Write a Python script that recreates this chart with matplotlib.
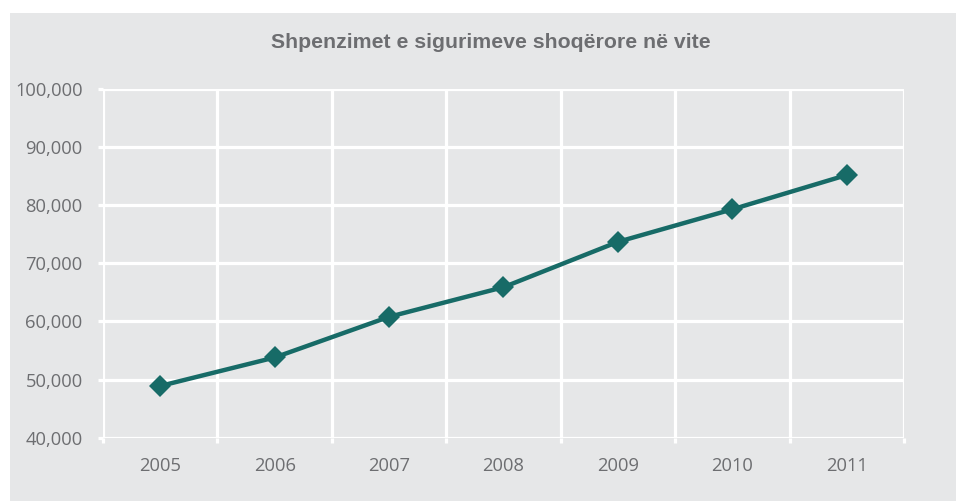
import matplotlib
matplotlib.use("Agg")
import matplotlib.pyplot as plt
from matplotlib.patches import Rectangle
from matplotlib.ticker import FuncFormatter, MultipleLocator

years = ["2005", "2006", "2007", "2008", "2009", "2010", "2011"]
values = [48900, 53800, 60800, 65900, 73700, 79300, 85200]
title = "Shpenzimet e sigurimeve shoqërore në vite"

BG = "#e6e7e8"
LINE = "#176b67"
TXT = "#6d6e71"

W, H = 956, 501
fig = plt.figure(figsize=(W / 100, H / 100), dpi=100, facecolor="white")
fig.patches.append(Rectangle((10 / W, 0), 1 - 10 / W, 1 - 13 / H,
                             transform=fig.transFigure, facecolor=BG,
                             edgecolor="none", zorder=-10))

ax = fig.add_axes([103 / W, 1 - 437.7 / H, (904 - 103) / W, (437.7 - 89) / H])
ax.set_facecolor(BG)

x = list(range(len(years)))
ax.plot(x, values, color=LINE, lw=3.2, marker="D", markersize=11,
        markeredgewidth=0, zorder=5, solid_capstyle="round")

ax.set_xlim(-0.5, len(years) - 0.5)
ax.set_ylim(40000, 100000)
ax.yaxis.set_major_locator(MultipleLocator(10000))
ax.yaxis.set_major_formatter(FuncFormatter(lambda v, p: f"{int(v):,}"))
ax.set_xticks(x)
ax.set_xticklabels(years)
ax.set_xticks([i - 0.5 for i in range(len(years) + 1)], minor=True)

ax.grid(axis="y", which="major", color="white", lw=2.3)
ax.grid(axis="x", which="minor", color="white", lw=2.3)
ax.grid(axis="x", which="major", visible=False)
for s in ax.spines.values():
    s.set_visible(False)

ax.tick_params(axis="y", which="major", length=5 * 0.72, width=2.3,
               color="white", pad=11, labelsize=13.2, labelcolor=TXT)
ax.tick_params(axis="x", which="major", length=0, pad=14,
               labelsize=13.2, labelcolor=TXT)
ax.tick_params(axis="x", which="minor", length=5 * 0.72, width=2.3,
               color="white")
for lab in ax.get_xticklabels() + ax.get_yticklabels():
    lab.set_fontfamily("Open Sans")
ax.set_axisbelow(True)

fig.text(491 / W, 1 - 43 / H, title, ha="center", va="center",
         fontsize=15.3, fontweight="bold", color=TXT, family="Liberation Sans")

fig.savefig("out.png", dpi=100, facecolor="white")
